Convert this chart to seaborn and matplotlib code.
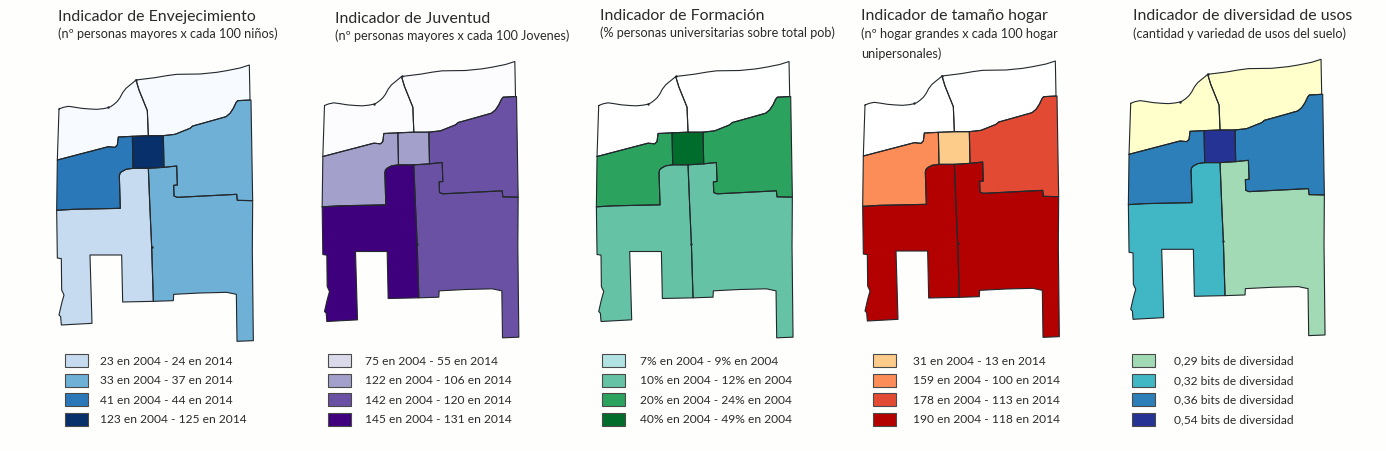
import pandas as pd
import seaborn as sns
import matplotlib.pyplot as plt
from matplotlib.patches import Patch

W, H = 1386, 451

# shared boundaries (x right, y down)
north_curve = [(57, 177), (70, 172), (85, 169), (100, 171), (125, 175), (150, 177), (170, 178), (190, 176),
               (205, 173), (212, 170), (222, 163), (232, 154), (240, 143), (248, 128), (258, 115), (270, 105),
               (280, 97), (288, 90)]
north_top = [(288, 90), (345, 83), (380, 77), (410, 73), (480, 72), (530, 67), (560, 62), (600, 54), (628, 45)]
east_curve = [(593, 152), (588, 158), (580, 175), (570, 190), (558, 200), (530, 208), (505, 215), (480, 222),
              (458, 228), (450, 235), (430, 243), (415, 249), (405, 253), (370, 257)]
spine = [(288, 90), (297, 120), (322, 182), (325, 257)]
west_step = [(52, 330), (205, 290), (225, 292), (232, 285), (235, 261), (277, 259)]
core_corner = [(279, 355), (258, 358), (245, 365), (240, 370), (238, 378), (241, 475)]
south_spine = [(325, 355), (330, 480), (335, 590), (340, 754)]
notch = [(372, 352), (410, 348), (412, 405), (401, 406), (402, 438), (412, 442), (590, 433), (592, 451), (638, 452)]

zones = {
    'NW': north_curve + spine[1:] + [(277, 259)] + west_step[::-1][1:],
    'NE': north_top + [(630, 150)] + east_curve + [(325, 257)] + spine[::-1][1:],
    'W': west_step + core_corner + [(100, 478), (50, 481)],
    'C': [(277, 259), (325, 257), (370, 257), (372, 352), (325, 355), (279, 355)],
    'E': east_curve[::-1] + [(633, 150)] + notch[::-1],
    'SW': [(50, 481), (100, 478)] + core_corner[::-1] + [(325, 355)] + south_spine[1:]
          + [(248, 756), (245, 615), (150, 615), (156, 820), (64, 825), (62, 800), (57, 795), (65, 760),
             (72, 735), (65, 720), (64, 626), (52, 624)],
    'SE': [(325, 355)] + notch + [(637, 600), (640, 872), (591, 874), (589, 733), (560, 727), (480, 729),
                                  (401, 733), (400, 752)] + south_spine[::-1][:-1],
}
zone_names = ['NW', 'NE', 'W', 'C', 'E', 'SW', 'SE']
node_x = [288, 205, 335]
node_y = [89, 172, 591]

titles = ['Indicador de Envejecimiento', 'Indicador de Juventud', 'Indicador de Formación',
          'Indicador de tamaño hogar', 'Indicador de diversidad de usos']
subtitles = ['(nº personas mayores x cada 100 niños)',
             '(nº personas mayores x cada 100 Jovenes)',
             '(% personas universitarias sobre total pob)',
             '(nº hogar grandes x cada 100 hogar\nunipersonales)',
             '(cantidad y variedad de usos del suelo)']

labels_envejecimiento = ['23 en 2004 - 24 en 2014', '33 en 2004 - 37 en 2014',
                         '41 en 2004 - 44 en 2014', '123 en 2004 - 125 en 2014']
labels_juventud = ['75 en 2004 - 55 en 2014', '122 en 2004 - 106 en 2014',
                   '142 en 2004 - 120 en 2014', '145 en 2004 - 131 en 2014']
labels_formacion = ['7% en 2004 - 9% en 2004', '10% en 2004 - 12% en 2004',
                    '20% en 2004 - 24% en 2004', '40% en 2004 - 49% en 2004']
labels_hogar = ['31 en 2004 - 13 en 2014', '159 en 2004 - 100 en 2014',
                '178 en 2004 - 113 en 2014', '190 en 2004 - 118 en 2014']
labels_usos = ['0,29 bits de diversidad', '0,32 bits de diversidad',
               '0,36 bits de diversidad', '0,54 bits de diversidad']
legend_labels = [labels_envejecimiento, labels_juventud, labels_formacion, labels_hogar, labels_usos]

# first colour is the class with no legend entry
palettes = [['#f7fbff', '#c6dbef', '#6fb0d7', '#2b78b8', '#08306b'],
            ['#fcfbfd', '#dadaeb', '#a3a0cb', '#6a51a3', '#3f007d'],
            ['#ffffff', '#b2e2e2', '#66c2a4', '#2ca25f', '#006d2c'],
            ['#ffffff', '#fdcc8a', '#fc8d59', '#e34a33', '#b30000'],
            ['#ffffcc', '#a1dab4', '#41b6c4', '#2c7fb8', '#253494']]

# class of each zone, same order as zone_names
classes_envejecimiento = [0, 0, 3, 4, 2, 1, 2]
classes_juventud = [0, 0, 2, 2, 3, 4, 3]
classes_formacion = [0, 0, 3, 4, 3, 2, 2]
classes_hogar = [0, 0, 2, 1, 3, 4, 4]
classes_usos = [0, 0, 3, 4, 3, 2, 1]
zone_classes = [classes_envejecimiento, classes_juventud, classes_formacion, classes_hogar, classes_usos]

# layout in pixels
map_x = [40, 305.5, 579.7, 846, 1111.7]
map_y = [50, 46.5, 46.5, 46, 44.3]
title_x = [58, 335, 600, 861, 1133]
title_y = [17, 19, 16, 16, 16]
sub_y = [27, 29, 26, 27, 27]
legend_x = [65, 328, 602, 873, 1132]
legend_y = [354, 354, 354, 354, 354]
legend_gap = [12, 14, 15, 17, 19]

sns.set_theme(style='white')
plt.rcParams['font.family'] = ['Lato', 'DejaVu Sans']

outlines = []
for name in zone_names:
    pts = zones[name] + [zones[name][0]]
    outlines.append(pd.DataFrame(pts, columns=['x', 'y']).assign(zone=name))
outlines = pd.concat(outlines, ignore_index=True)

fig = plt.figure(figsize=(W / 100, H / 100), dpi=100, facecolor='#fefefc')

for i in range(5):
    ax = fig.add_axes([map_x[i] / W, 1 - (map_y[i] + 300) / H, 240 / W, 300 / H])
    ax.patch.set_alpha(0)
    for name, c in zip(zone_names, zone_classes[i]):
        xs, ys = zip(*zones[name])
        ax.fill(xs, ys, color=palettes[i][c], lw=0)
    sns.lineplot(data=outlines, x='x', y='y', units='zone', estimator=None, sort=False,
                 color='#22282c', linewidth=0.8, legend=False, ax=ax)
    sns.scatterplot(x=node_x, y=node_y, s=3, color='#22282c', linewidth=0, legend=False, ax=ax)
    ax.set_xlim(0, 720)
    ax.set_ylim(900, 0)
    ax.axis('off')

    fig.text(title_x[i] / W, 1 - title_y[i] / H, titles[i], fontsize=11.4, va='center', color='#2a2a2a')
    fig.text(title_x[i] / W, 1 - sub_y[i] / H, subtitles[i], fontsize=9.1, va='top', color='#2a2a2a', linespacing=1.75)

    handles = [Patch(facecolor=palettes[i][k + 1], edgecolor='#4a4a4a', linewidth=0.8, label=lab)
               for k, lab in enumerate(legend_labels[i])]
    fs = 8.65
    px = fs * 100 / 72
    fig.legend(handles=handles, loc='upper left', bbox_to_anchor=(legend_x[i] / W, 1 - legend_y[i] / H),
               frameon=False, fontsize=fs, borderpad=0, borderaxespad=0, handlelength=23 / px,
               handleheight=1.29, handletextpad=legend_gap[i] / px, labelspacing=0.55,
               labelcolor='#2a2a2a')

fig.savefig('out.png', dpi=100, facecolor=fig.get_facecolor())
